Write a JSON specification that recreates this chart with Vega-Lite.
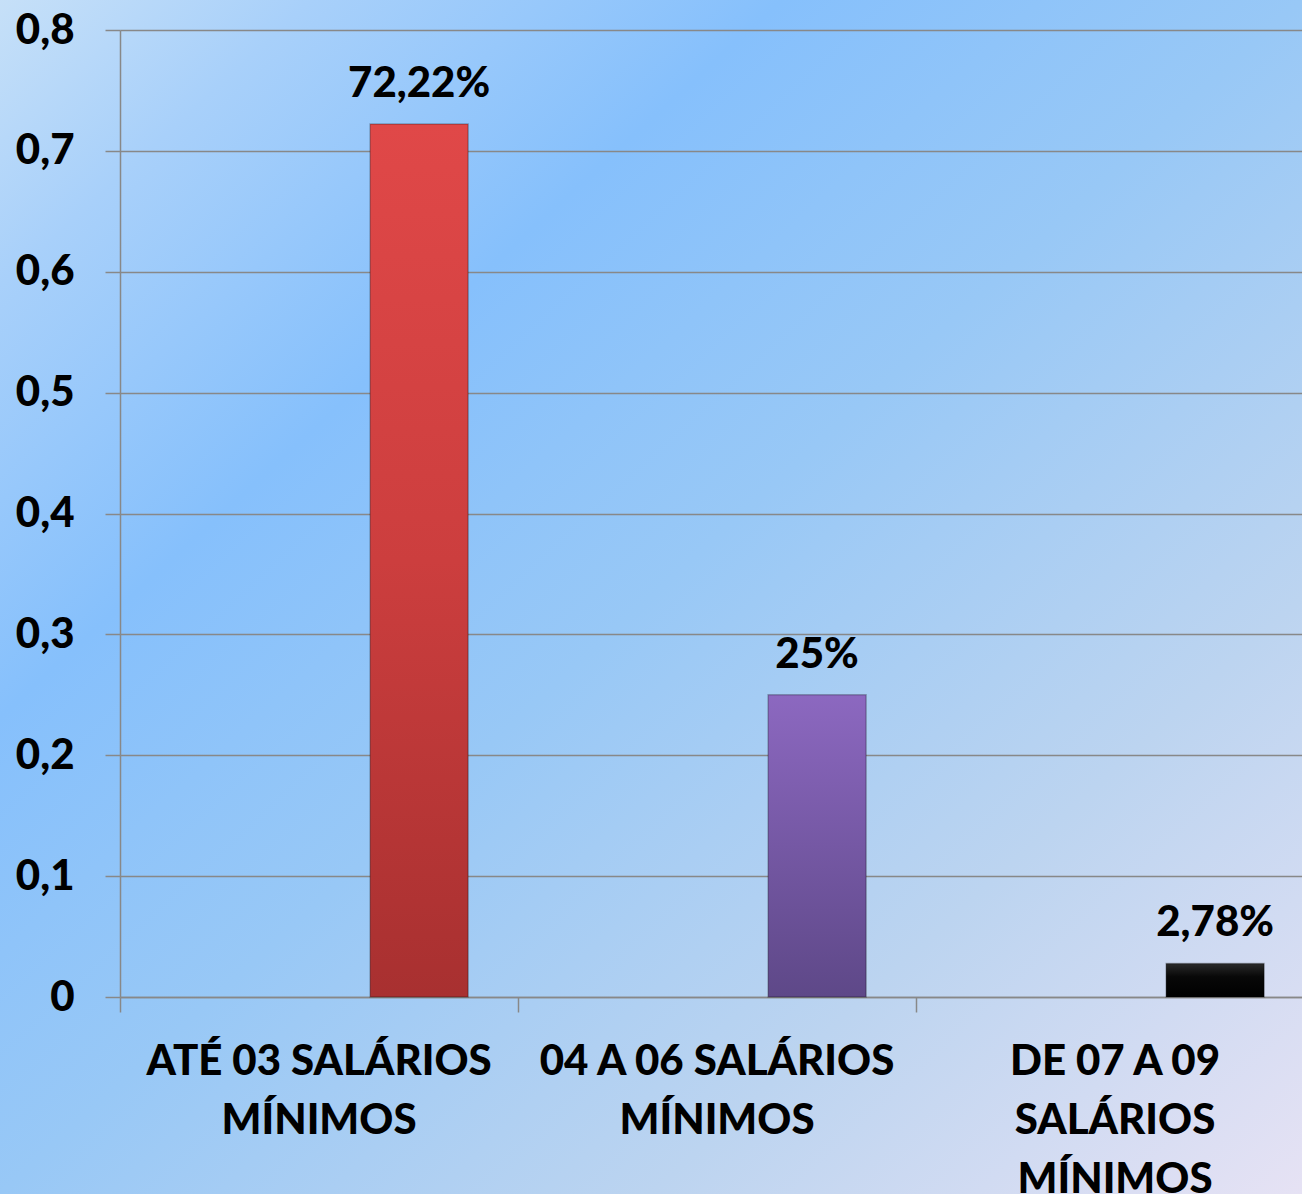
{
  "$schema": "https://vega.github.io/schema/vega-lite/v6.json",
  "width": 1302,
  "height": 1194,
  "autosize": {"type": "none"},
  "padding": 0,
  "background": "#a8cef4",
  "view": {
    "stroke": null,
    "fill": {
      "gradient": "linear",
      "x1": 0, "y1": 0, "x2": 1, "y2": 1,
      "stops": [
        {"offset": 0, "color": "#c6e0f8"},
        {"offset": 0.12, "color": "#a8d0fa"},
        {"offset": 0.3, "color": "#86c0fc"},
        {"offset": 0.5, "color": "#98c8f6"},
        {"offset": 0.75, "color": "#bcd4f0"},
        {"offset": 1, "color": "#e6e2f4"}
      ]
    }
  },
  "data": {
    "values": [
      {"faixa": "ATÉ 03 SALÁRIOS MÍNIMOS", "serie": "S3", "valor": 0.7222, "rotulo": "72,22%"},
      {"faixa": "04 A 06 SALÁRIOS MÍNIMOS", "serie": "S3", "valor": 0.25, "rotulo": "25%"},
      {"faixa": "DE 07 A 09 SALÁRIOS MÍNIMOS", "serie": "S3", "valor": 0.0278, "rotulo": "2,78%"}
    ]
  },
  "encoding": {
    "x": {
      "field": "faixa",
      "type": "nominal",
      "sort": null,
      "scale": {"range": [120, 1314], "paddingInner": 0, "paddingOuter": 0},
      "axis": {
        "title": null,
        "orient": "bottom",
        "offset": -197,
        "bandPosition": 0,
        "domainColor": "#888888",
        "domainWidth": 1.5,
        "tickColor": "#888888",
        "tickWidth": 1.5,
        "tickSize": 15,
        "labelPadding": 29,
        "labelAngle": 0,
        "labelFont": "Lato",
        "labelFontWeight": 900,
        "labelFontSize": 42,
        "labelColor": "#000000",
        "labelLineHeight": 59,
        "labelLimit": 0,
        "labelOverlap": false,
        "labelExpr": "datum.value == 'ATÉ 03 SALÁRIOS MÍNIMOS' ? ['ATÉ 03 SALÁRIOS', 'MÍNIMOS'] : datum.value == '04 A 06 SALÁRIOS MÍNIMOS' ? ['04 A 06 SALÁRIOS', 'MÍNIMOS'] : ['DE 07 A 09', 'SALÁRIOS', 'MÍNIMOS']",
        "grid": false
      }
    },
    "xOffset": {
      "field": "serie",
      "type": "nominal",
      "scale": {"domain": ["S1", "S2", "S3"], "paddingInner": 0, "paddingOuter": 0.53, "align": 0.52}
    },
    "y": {
      "field": "valor",
      "type": "quantitative",
      "scale": {"domain": [0, 0.8], "range": [997, 30], "nice": false},
      "axis": {
        "title": null,
        "orient": "left",
        "offset": -120,
        "values": [0, 0.1, 0.2, 0.3, 0.4, 0.5, 0.6, 0.7, 0.8],
        "labelExpr": "datum.value == 0 ? '0' : replace(format(datum.value, '.1f'), '.', ',')",
        "domainColor": "#888888",
        "domainWidth": 1.5,
        "tickColor": "#888888",
        "tickWidth": 1.5,
        "tickSize": 15,
        "labelPadding": 31,
        "labelFont": "Lato",
        "labelFontWeight": 900,
        "labelFontSize": 42,
        "labelColor": "#000000",
        "grid": true,
        "gridColor": "#888888",
        "gridWidth": 1.5
      }
    }
  },
  "layer": [
    {
      "mark": {"type": "bar", "stroke": "#000000", "strokeOpacity": 0.25, "strokeWidth": 1.5},
      "encoding": {
        "fill": {
          "condition": [
            {
              "test": "datum.faixa == 'ATÉ 03 SALÁRIOS MÍNIMOS'",
              "value": {
                "gradient": "linear", "x1": 0, "y1": 0, "x2": 0, "y2": 1,
                "stops": [
                  {"offset": 0, "color": "#e04848"},
                  {"offset": 0.5, "color": "#cc3e3e"},
                  {"offset": 1, "color": "#a83030"}
                ]
              }
            },
            {
              "test": "datum.faixa == '04 A 06 SALÁRIOS MÍNIMOS'",
              "value": {
                "gradient": "linear", "x1": 0, "y1": 0, "x2": 0, "y2": 1,
                "stops": [
                  {"offset": 0, "color": "#8c68c0"},
                  {"offset": 1, "color": "#5e4888"}
                ]
              }
            }
          ],
          "value": {
            "gradient": "linear", "x1": 0, "y1": 0, "x2": 0, "y2": 1,
            "stops": [
              {"offset": 0, "color": "#2a2a2a"},
              {"offset": 0.4, "color": "#080808"},
              {"offset": 1, "color": "#000000"}
            ]
          }
        }
      }
    },
    {
      "mark": {
        "type": "text",
        "baseline": "alphabetic",
        "dy": -27,
        "font": "Lato",
        "fontWeight": 900,
        "fontSize": 42,
        "color": "#000000"
      },
      "encoding": {
        "text": {"field": "rotulo", "type": "nominal"}
      }
    }
  ]
}
